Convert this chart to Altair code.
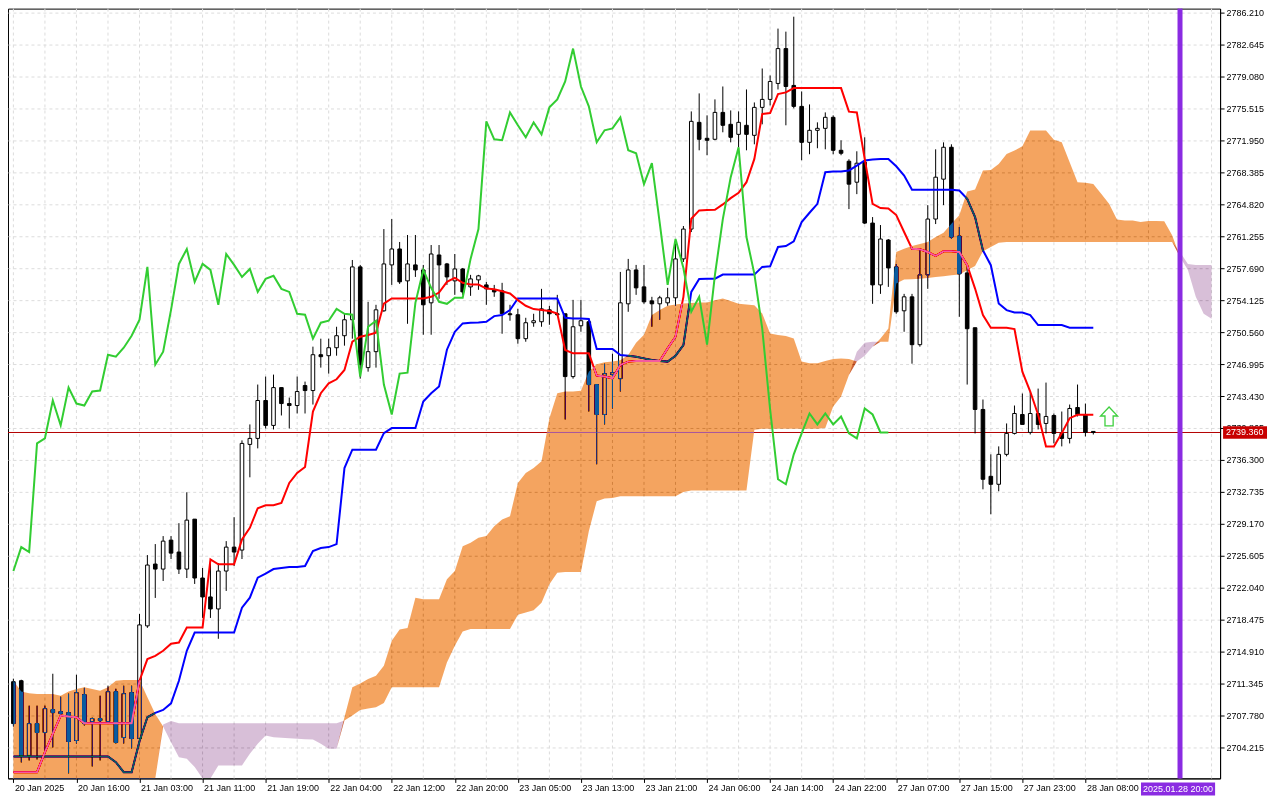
import altair as alt
import pandas as pd

# ---------------- data (H1 bars, index 0..137) ----------------
opens = [2711.55, 2711.66, 2703.32, 2706.88, 2705.88, 2708.44, 2708.21, 2708.10, 2704.99, 2710.11,
         2707.10, 2707.44, 2707.10, 2710.44, 2705.32, 2710.33, 2705.21, 2717.78, 2724.68, 2724.12,
         2727.35, 2726.02, 2724.12, 2729.69, 2723.12, 2721.01, 2719.67, 2723.90, 2726.57, 2726.24,
         2738.03, 2738.70, 2742.93, 2740.15, 2744.37, 2742.59, 2742.37, 2744.60, 2744.04, 2748.04,
         2747.93, 2748.82, 2750.16, 2751.94, 2757.84, 2746.60, 2748.38, 2752.94, 2758.06, 2759.84,
         2756.28, 2758.06, 2757.50, 2753.83, 2759.17, 2758.17, 2756.28, 2757.61, 2755.61, 2756.39,
         2755.83, 2755.28, 2755.17, 2752.61, 2752.50, 2749.83, 2751.61, 2751.72, 2753.05, 2752.61,
         2752.61, 2745.60, 2751.27, 2751.72, 2744.71, 2741.37, 2745.82, 2745.37, 2753.72, 2757.50,
         2755.61, 2754.05, 2753.72, 2753.83, 2754.39, 2758.73, 2762.06, 2773.97, 2772.19, 2772.08,
         2775.08, 2773.75, 2772.63, 2773.64, 2772.52, 2775.64, 2776.53, 2778.31, 2782.20, 2778.09,
         2775.75, 2771.74, 2773.08, 2773.30, 2774.53, 2770.85, 2769.63, 2767.29, 2769.52, 2762.73,
         2755.83, 2760.84, 2757.84, 2752.94, 2754.50, 2749.16, 2756.95, 2763.18, 2767.63, 2771.19,
         2761.28, 2757.17, 2751.05, 2741.93, 2734.47, 2733.58, 2736.92, 2739.26, 2741.37, 2739.37,
         2741.48, 2740.37, 2741.26, 2739.26, 2738.70, 2742.15, 2741.37, 2739.48]

highs = [2711.89, 2711.77, 2708.88, 2708.88, 2708.88, 2712.44, 2709.88, 2710.22, 2712.33, 2710.88,
         2707.55, 2709.99, 2711.11, 2710.77, 2711.11, 2711.11, 2719.12, 2725.68, 2726.91, 2727.80,
         2727.80, 2729.24, 2732.69, 2729.69, 2724.24, 2725.01, 2724.79, 2727.24, 2729.91, 2738.48,
         2740.26, 2744.71, 2745.60, 2745.82, 2744.37, 2743.26, 2745.60, 2745.04, 2748.94, 2749.83,
         2749.83, 2751.16, 2752.61, 2758.61, 2758.06, 2753.94, 2753.61, 2762.06, 2763.18, 2760.62,
         2761.40, 2761.40, 2758.06, 2760.28, 2760.28, 2758.28, 2759.28, 2757.72, 2756.95, 2756.95,
         2756.17, 2755.83, 2756.06, 2753.61, 2753.16, 2752.16, 2752.61, 2755.39, 2753.50, 2754.72,
         2752.61, 2754.16, 2754.16, 2752.05, 2744.71, 2747.04, 2748.16, 2757.28, 2758.73, 2758.06,
         2758.06, 2754.50, 2754.61, 2755.50, 2760.95, 2762.40, 2775.19, 2777.20, 2774.75, 2776.53,
         2777.97, 2775.30, 2775.19, 2777.64, 2776.19, 2779.98, 2779.20, 2784.43, 2784.09, 2785.76,
         2777.42, 2775.97, 2773.97, 2775.08, 2774.75, 2771.97, 2769.85, 2770.74, 2772.30, 2763.40,
         2762.51, 2760.95, 2758.17, 2754.83, 2754.83, 2759.73, 2764.73, 2770.96, 2771.74, 2771.52,
         2762.29, 2757.84, 2751.05, 2743.04, 2736.92, 2737.81, 2740.37, 2742.37, 2743.71, 2743.93,
         2744.26, 2744.93, 2741.48, 2741.70, 2742.48, 2744.71, 2742.59, 2739.48]

lows = [2706.55, 2702.54, 2702.76, 2702.87, 2703.88, 2704.21, 2707.77, 2701.32, 2704.65, 2706.66,
        2702.09, 2702.76, 2706.99, 2704.65, 2704.65, 2704.10, 2704.65, 2717.56, 2720.90, 2722.79,
        2725.24, 2723.57, 2723.12, 2722.46, 2718.67, 2718.67, 2716.34, 2721.68, 2724.46, 2725.24,
        2734.36, 2737.59, 2739.81, 2739.70, 2741.26, 2739.81, 2741.48, 2741.48, 2742.48, 2746.60,
        2745.93, 2747.93, 2749.05, 2749.83, 2745.37, 2746.15, 2746.60, 2752.83, 2755.83, 2755.94,
        2751.49, 2756.72, 2750.27, 2750.27, 2754.28, 2755.83, 2754.72, 2754.72, 2754.61, 2755.28,
        2753.61, 2754.50, 2750.38, 2751.83, 2749.27, 2749.49, 2751.16, 2751.16, 2751.38, 2752.38,
        2740.81, 2745.37, 2750.60, 2741.70, 2735.81, 2740.26, 2742.04, 2743.93, 2752.83, 2754.72,
        2753.72, 2751.16, 2751.94, 2753.50, 2753.50, 2758.39, 2761.73, 2770.85, 2770.30, 2771.97,
        2772.86, 2771.74, 2771.19, 2770.85, 2771.52, 2773.75, 2775.86, 2777.64, 2773.64, 2775.53,
        2769.74, 2770.41, 2771.08, 2770.96, 2770.41, 2770.30, 2764.29, 2765.96, 2762.62, 2753.72,
        2754.83, 2755.61, 2752.61, 2750.60, 2747.04, 2748.94, 2755.39, 2762.62, 2764.73, 2760.95,
        2752.27, 2744.71, 2739.26, 2733.02, 2730.24, 2732.80, 2736.70, 2739.14, 2740.26, 2739.14,
        2739.70, 2739.26, 2738.14, 2737.81, 2738.14, 2741.15, 2738.92, 2739.14]

closes = [2706.88, 2703.32, 2706.88, 2705.88, 2708.55, 2708.10, 2707.99, 2704.88, 2710.33, 2706.88,
          2707.44, 2707.21, 2710.44, 2704.77, 2710.22, 2705.21, 2717.89, 2724.57, 2724.12, 2727.24,
          2725.90, 2724.12, 2729.58, 2723.12, 2721.01, 2719.67, 2723.90, 2726.57, 2726.02, 2738.14,
          2738.70, 2742.93, 2740.15, 2744.37, 2742.59, 2742.37, 2743.93, 2744.04, 2748.04, 2747.82,
          2748.82, 2750.16, 2751.94, 2757.84, 2746.93, 2748.38, 2753.05, 2758.17, 2759.84, 2756.17,
          2758.17, 2757.50, 2753.61, 2759.28, 2758.06, 2756.72, 2757.61, 2755.05, 2756.50, 2756.84,
          2755.39, 2755.05, 2752.61, 2752.50, 2749.83, 2751.61, 2751.83, 2753.16, 2752.61, 2752.50,
          2745.60, 2751.16, 2751.83, 2744.71, 2741.37, 2745.93, 2746.04, 2753.83, 2757.50, 2755.50,
          2753.94, 2753.72, 2754.39, 2754.39, 2758.73, 2762.06, 2774.08, 2772.08, 2771.97, 2775.08,
          2773.64, 2772.30, 2773.97, 2772.63, 2775.64, 2776.53, 2778.53, 2782.20, 2777.97, 2775.75,
          2771.74, 2773.08, 2773.30, 2774.53, 2770.85, 2770.52, 2767.07, 2769.41, 2762.73, 2755.83,
          2760.95, 2757.72, 2752.83, 2754.50, 2749.16, 2756.95, 2763.18, 2767.85, 2771.19, 2761.17,
          2757.06, 2750.94, 2741.93, 2734.14, 2733.58, 2736.92, 2739.26, 2741.48, 2740.26, 2741.48,
          2740.26, 2741.15, 2739.26, 2738.70, 2742.04, 2741.37, 2739.37, 2739.36]

tenkan = [2701.46, 2701.46, 2701.46, 2701.46, 2703.69, 2705.73, 2707.77, 2707.66, 2707.58, 2706.91,
          2706.91, 2706.91, 2706.91, 2706.91, 2706.91, 2706.91, 2711.66, 2714.08, 2714.44, 2715.00,
          2715.78, 2715.92, 2717.59, 2717.59, 2717.59, 2725.20, 2724.65, 2724.65, 2724.65, 2727.43,
          2728.72, 2730.91, 2731.24, 2731.24, 2731.50, 2733.73, 2734.84, 2735.51, 2741.70, 2743.74,
          2744.85, 2745.30, 2746.34, 2749.49, 2750.05, 2750.24, 2750.49, 2753.75, 2754.31, 2754.31,
          2754.31, 2754.31, 2754.31, 2754.50, 2754.98, 2756.17, 2756.61, 2756.06, 2755.87, 2755.87,
          2755.42, 2755.35, 2755.13, 2754.87, 2754.13, 2753.50, 2753.13, 2753.02, 2752.91, 2752.64,
          2748.57, 2748.19, 2748.19, 2748.19, 2745.71, 2745.60, 2745.41, 2746.90, 2747.27, 2747.34,
          2747.34, 2747.34, 2747.34, 2748.75, 2750.05, 2754.50, 2763.21, 2764.14, 2764.18, 2764.21,
          2764.81, 2765.51, 2766.10, 2767.29, 2769.89, 2774.89, 2775.00, 2777.12, 2777.31, 2777.79,
          2777.79, 2777.79, 2777.79, 2777.79, 2777.79, 2777.79, 2775.16, 2775.08, 2769.89, 2764.88,
          2764.40, 2764.35, 2763.62, 2761.73, 2759.87, 2759.81, 2759.50, 2759.06, 2759.58, 2759.58,
          2759.50, 2758.03, 2755.42, 2752.46, 2751.05, 2751.05, 2751.05, 2750.90, 2746.15, 2743.93,
          2741.34, 2737.81, 2737.81, 2739.29, 2740.96, 2741.34, 2741.34, 2741.34]

kijun = [2703.21, 2703.21, 2703.21, 2703.21, 2703.21, 2703.21, 2703.21, 2703.21, 2703.21, 2703.21,
         2703.21, 2703.21, 2703.21, 2702.57, 2701.46, 2701.46, 2704.90, 2707.58, 2708.07, 2708.40,
         2709.14, 2711.66, 2715.00, 2717.04, 2717.04, 2717.04, 2717.04, 2717.04, 2717.04, 2719.82,
         2720.93, 2723.16, 2723.60, 2724.12, 2724.24, 2724.35, 2724.35, 2724.46, 2726.13, 2726.46,
         2726.57, 2726.91, 2735.39, 2737.44, 2737.44, 2737.44, 2737.44, 2739.29, 2739.85, 2739.85,
         2739.85, 2739.85, 2742.82, 2743.74, 2744.49, 2748.60, 2750.60, 2751.53, 2751.61, 2751.64,
         2751.72, 2752.35, 2752.46, 2753.02, 2754.31, 2754.31, 2754.31, 2754.31, 2754.31, 2754.31,
         2752.16, 2752.08, 2752.08, 2752.02, 2748.68, 2748.68, 2748.68, 2748.01, 2747.93, 2747.82,
         2747.63, 2747.46, 2747.34, 2747.27, 2747.93, 2749.12, 2755.05, 2756.50, 2756.53, 2756.53,
         2756.98, 2756.98, 2756.98, 2756.98, 2756.98, 2757.84, 2757.91, 2760.06, 2760.17, 2760.70,
         2762.84, 2763.88, 2764.88, 2768.41, 2768.48, 2768.48, 2768.60, 2769.15, 2769.71, 2769.82,
         2769.89, 2769.89, 2769.07, 2768.04, 2766.44, 2766.44, 2766.44, 2766.44, 2766.44, 2766.44,
         2766.37, 2765.44, 2763.40, 2759.69, 2758.03, 2753.75, 2753.02, 2752.75, 2752.75, 2752.46,
         2751.35, 2751.35, 2751.35, 2751.35, 2751.05, 2751.05, 2751.05, 2751.05]

# Senkou span A / B as drawn (already shifted 26 bars ahead), bar index 0..153
span_a = [2711.66, 2710.47, 2710.25, 2710.18, 2710.18, 2710.18, 2709.99, 2710.47, 2710.74, 2710.92,
          2710.74, 2710.55, 2710.92, 2711.66, 2711.74, 2711.74, 2711.74, 2709.81, 2707.96, 2706.55,
          2704.80, 2703.13, 2702.95, 2702.02, 2700.73, 2700.31, 2702.21, 2702.21, 2702.21, 2702.21,
          2703.51, 2704.62, 2705.54, 2705.36, 2705.29, 2705.24, 2705.18, 2705.13, 2705.10, 2704.62,
          2704.06, 2704.06, 2707.58, 2710.92, 2711.36, 2711.85, 2712.22, 2713.33, 2716.11, 2717.37,
          2717.53, 2720.93, 2720.75, 2720.75, 2720.75, 2722.98, 2723.90, 2726.68, 2727.05, 2727.61,
          2727.80, 2728.91, 2729.65, 2730.02, 2733.73, 2734.84, 2735.39, 2736.14, 2740.96, 2743.74,
          2743.93, 2743.93, 2744.01, 2746.15, 2746.97, 2747.19, 2747.27, 2747.41, 2748.01, 2749.38,
          2750.27, 2752.46, 2753.02, 2753.50, 2753.64, 2753.75, 2753.80, 2753.86, 2753.86, 2754.13,
          2754.31, 2754.02, 2753.72, 2753.64, 2753.57, 2752.64, 2750.41, 2750.24, 2750.13, 2749.86,
          2747.27, 2747.08, 2747.08, 2747.34, 2747.57, 2747.63, 2747.57, 2747.27, 2747.93, 2748.94,
          2749.86, 2750.97, 2759.50, 2759.87, 2760.17, 2760.40, 2760.62, 2761.17, 2761.65, 2762.65,
          2763.59, 2766.26, 2766.48, 2768.60, 2768.66, 2769.33, 2770.44, 2770.82, 2771.30, 2773.05,
          2773.05, 2773.05, 2772.04, 2771.74, 2769.52, 2767.29, 2767.22, 2767.10, 2765.99, 2764.88,
          2763.14, 2763.03, 2763.03, 2762.84, 2762.95, 2762.95, 2762.92, 2761.36, 2758.95, 2757.50,
          2754.50, 2752.61, 2752.05, 2751.94]

span_b = [2698.00, 2698.00, 2698.00, 2698.00, 2698.00, 2698.00, 2698.00, 2698.00, 2698.00, 2698.00,
          2698.00, 2698.00, 2698.00, 2698.00, 2698.00, 2698.00, 2698.00, 2698.00, 2699.50, 2706.77,
          2707.16, 2706.91, 2706.91, 2706.91, 2706.91, 2706.91, 2706.91, 2706.91, 2706.91, 2706.91,
          2706.91, 2706.91, 2706.91, 2706.91, 2706.91, 2706.91, 2706.91, 2706.91, 2706.91, 2706.91,
          2706.91, 2706.91, 2707.21, 2707.77, 2708.40, 2708.55, 2708.69, 2709.18, 2710.92, 2710.92,
          2710.92, 2710.92, 2710.92, 2710.92, 2710.92, 2713.70, 2715.56, 2717.15, 2717.42, 2717.42,
          2717.42, 2717.42, 2717.42, 2717.42, 2719.01, 2719.26, 2719.53, 2720.37, 2722.42, 2723.71,
          2723.79, 2723.79, 2723.79, 2728.35, 2731.69, 2731.99, 2732.06, 2732.25, 2732.25, 2732.25,
          2732.25, 2732.25, 2732.25, 2732.25, 2732.25, 2732.72, 2732.88, 2732.88, 2732.88, 2732.88,
          2732.88, 2732.88, 2732.88, 2732.88, 2739.67, 2739.78, 2739.78, 2739.78, 2739.78, 2739.78,
          2739.78, 2739.78, 2739.78, 2739.85, 2742.26, 2743.37, 2745.79, 2748.38, 2749.38, 2749.49,
          2749.49, 2749.49, 2755.98, 2756.42, 2756.47, 2756.53, 2756.61, 2756.72, 2756.80, 2756.91,
          2756.98, 2757.47, 2757.95, 2759.58, 2760.06, 2760.54, 2760.62, 2760.62, 2760.62, 2760.62,
          2760.62, 2760.62, 2760.62, 2760.62, 2760.62, 2760.62, 2760.62, 2760.62, 2760.62, 2760.62,
          2760.62, 2760.62, 2760.62, 2760.62, 2760.62, 2760.62, 2760.62, 2760.62, 2759.50, 2758.17,
          2758.06, 2758.06, 2758.06, 2758.06]

tick_labels = ["20 Jan 2025", "20 Jan 16:00", "21 Jan 03:00", "21 Jan 11:00", "21 Jan 19:00",
               "22 Jan 04:00", "22 Jan 12:00", "22 Jan 20:00", "23 Jan 05:00", "23 Jan 13:00",
               "23 Jan 21:00", "24 Jan 06:00", "24 Jan 14:00", "24 Jan 22:00", "27 Jan 07:00",
               "27 Jan 15:00", "27 Jan 23:00", "28 Jan 08:00"]
tick_bars = [0, 8, 16, 24, 32, 40, 48, 56, 64, 72, 80, 88, 96, 104, 112, 120, 128, 136]

price_ticks = [2704.215, 2707.780, 2711.345, 2714.910, 2718.475, 2722.040, 2725.605, 2729.170,
               2732.735, 2736.300, 2739.865, 2743.430, 2746.995, 2750.560, 2754.125, 2757.690,
               2761.255, 2764.820, 2768.385, 2771.950, 2775.515, 2779.080, 2782.645, 2786.210]

current_price = 2739.36
marker_bar = 148
marker_label = "2025.01.28 20:00"
signal_bar = 139
signal_price = 2741.15
chikou_shift = 26

# ---------------- layout ----------------
W, H = 1214, 771
X_DOM = [-0.05, 152.45]
Y_DOM = [2700.76, 2786.66]
FONT = "Liberation Sans"

xs = alt.Scale(domain=X_DOM, nice=False, zero=False)
ys = alt.Scale(domain=Y_DOM, nice=False, zero=False)

label_js = "[" + ",".join("'" + t + "'" for t in tick_labels) + "]"

XAX = alt.Axis(
    values=tick_bars, labelExpr=label_js + "[round(datum.value/8)]",
    grid=False, tickSize=4, tickColor="black", domainColor="black", orient="bottom",
    labelAlign="left", labelBaseline="top", labelPadding=1, labelOffset=1,
    labelFont=FONT, labelFontSize=9, labelColor="black",
    labelFlush=False, labelOverlap=False, title="")
YAX = alt.Axis(
    orient="right", values=price_ticks, format=".3f", grid=True,
    gridDash=[3, 3], gridColor="#dcdcdc", tickSize=4, tickColor="black",
    domainColor="black", labelPadding=2, labelFont=FONT, labelFontSize=9,
    labelColor="black", labelFlush=False, labelOverlap=False, title="")


def X(field):
    return alt.X(field, type="quantitative", scale=xs, axis=XAX)


def Y(field):
    return alt.Y(field, type="quantitative", scale=ys, axis=YAX)


n = len(closes)
candles = pd.DataFrame({
    "i": list(range(n)), "open": opens, "high": highs, "low": lows, "close": closes,
    "tenkan": tenkan, "kijun": kijun,
})
candles["dir"] = ["up" if c >= o else "down" for o, c in zip(opens, closes)]

chikou = pd.DataFrame({"i": list(range(n - chikou_shift)), "v": closes[chikou_shift:]})

cloud = pd.DataFrame({"i": list(range(len(span_a))), "A": span_a, "B": span_b})
cloud = cloud[cloud["i"] <= 152]

grid_x = pd.DataFrame({"i": list(range(0, 153, 4))})

# vertical dashed grid
vgrid = alt.Chart(grid_x).mark_rule(color="#dcdcdc", strokeWidth=1, strokeDash=[3, 3]).encode(
    x=X("i"))

price_df = pd.DataFrame({"p": [current_price]})
price_line = alt.Chart(price_df).mark_rule(color="#b40000", strokeWidth=1).encode(y=Y("p"))

wicks = alt.Chart(candles).mark_rule(color="black", strokeWidth=1).encode(
    x=X("i"), y=Y("low"), y2="high")

bodies = alt.Chart(candles).mark_bar(size=3.6, stroke="black", strokeWidth=1).encode(
    x=X("i"), y=Y("open"), y2="close",
    color=alt.Color("dir:N", scale=alt.Scale(domain=["up", "down"], range=["white", "black"]),
                    legend=None))

kijun_line = alt.Chart(candles).mark_line(color="#0000ff", strokeWidth=2).encode(
    x=X("i"), y=Y("kijun"))
tenkan_line = alt.Chart(candles).mark_line(color="#ff0000", strokeWidth=2).encode(
    x=X("i"), y=Y("tenkan"))

ymin, ymax = Y_DOM
cloud_base = alt.Chart(cloud).transform_calculate(
    lo=f"max(min(datum.A, datum.B), {ymin})",
    Ac=f"min(max(datum.A, {ymin}), {ymax})",
    Bc=f"min(max(datum.B, {ymin}), {ymax})",
)
# SandyBrown / Thistle cloud painted like the terminal does (inverse colour, difference blend)
cloud_up = cloud_base.mark_area(color="#0b5b9f", opacity=1, blend="difference").encode(
    x=X("i"), y=Y("Ac:Q"), y2="lo:Q")
cloud_dn = cloud_base.mark_area(color="#274027", opacity=1, blend="difference").encode(
    x=X("i"), y=Y("Bc:Q"), y2="lo:Q")

chikou_line = alt.Chart(chikou).mark_line(color="#32cd32", strokeWidth=2).encode(
    x=X("i"), y=Y("v"))

marker_df = pd.DataFrame({"i": [marker_bar], "t": [marker_label]})
marker_line = alt.Chart(marker_df).mark_rule(color="#8a2be2", strokeWidth=5).encode(x=X("i"))

sig_df = pd.DataFrame({"i": [signal_bar], "p": [signal_price]})
ARROW = "M0,-1 L0.9,-0.05 L0.43,-0.05 L0.43,1 L-0.43,1 L-0.43,-0.05 L-0.9,-0.05 Z"
arrow = alt.Chart(sig_df).mark_point(shape=ARROW, size=361, filled=True, color="white",
                                     stroke="#3fcf3f", strokeWidth=1.3, opacity=1).encode(
    x=X("i"), y=Y("p"))

price_box = alt.Chart(price_df).transform_calculate(
    lo="datum.p - 0.7", hi="datum.p + 0.7").mark_rect(color="#c80000").encode(
    x=alt.value(W + 3), x2=alt.value(W + 47), y=Y("lo:Q"), y2="hi:Q")
price_text = alt.Chart(price_df).mark_text(align="left", baseline="middle", color="white",
                                           font=FONT, fontSize=9).encode(
    x=alt.value(W + 6), y=Y("p"), text=alt.Text("p:Q", format=".3f"))

date_box = alt.Chart(marker_df).transform_calculate(
    x1="datum.i - 4.95", x2="datum.i + 4.45").mark_rect(color="#8a2be2").encode(
    x=X("x1:Q"), x2="x2:Q", y=alt.value(H + 4), y2=alt.value(H + 17))
date_text = alt.Chart(marker_df).mark_text(align="center", baseline="middle", color="white",
                                           font=FONT, fontSize=9, dx=-2).encode(
    x=X("i"), y=alt.value(H + 10.5), text="t:N")

chart = alt.layer(
    vgrid, price_line, wicks, bodies, kijun_line, tenkan_line,
    cloud_up, cloud_dn, chikou_line, marker_line, arrow,
    price_box, price_text, date_box, date_text,
).resolve_axis(x="shared", y="shared").properties(
    width=W, height=H, background="white",
    padding={"left": 0, "top": 0, "right": 52, "bottom": 20},
    autosize=alt.AutoSizeParams(type="none"),
).configure_view(stroke="black", strokeWidth=1)

chart.save("out.html", embed_options={"renderer": "svg", "actions": False})
